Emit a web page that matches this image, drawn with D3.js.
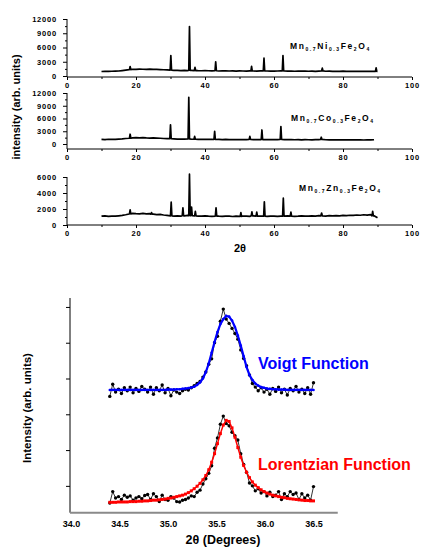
<!DOCTYPE html>
<html>
<head>
<meta charset="utf-8">
<script src="https://cdn.jsdelivr.net/npm/d3@7"></script>
<style>
  body { margin: 0; background: #fff; }
  svg { display: block; font-family: Arial, "Liberation Sans", sans-serif; }
</style>
</head>
<body>
<div id="chart"></div>
<script>
// ---- XRD patterns (top), baseline every 1 degree starting at 10 deg ----
const xrdStart = 10;
const niBase = [950, 980, 960, 1000, 1020, 1050, 1150, 1250, 1350, 1420, 1400, 1450, 1420, 1400, 1440, 1400, 1380, 1350, 1320, 1300,
  1250, 1200, 1180, 1150, 1180, 1150, 1200, 1150, 1120, 1100, 1120, 1100, 1080, 1100, 1050, 1080, 1060, 1050, 1080, 1040,
  1060, 1050, 1030, 1070, 1050, 1040, 1060, 1080, 1050, 1040, 1030, 1050, 1070, 1060, 1020, 1040, 1000, 1030, 1010, 1040,
  1000, 1020, 990, 1030, 1060, 1000, 1010, 980, 1000, 990, 1010, 980, 1000, 970, 990, 980, 960, 990, 970, 1000, 980];
const niPeaks = [[18.3, 2000], [30.1, 4300], [35.5, 10400], [37.1, 1800], [43.1, 3000], [53.5, 2050],
  [57.1, 3750], [62.6, 4300], [74.0, 1650], [89.6, 1700]];

const coBase = [1100, 1050, 1120, 1080, 1100, 1150, 1200, 1300, 1350, 1450, 1500, 1450, 1480, 1420, 1400, 1420, 1380, 1350, 1300, 1280,
  1250, 1200, 1150, 1180, 1150, 1200, 1150, 1120, 1100, 1120, 1080, 1100, 1080, 1060, 1080, 1050, 1070, 1040, 1060, 1050,
  1030, 1060, 1040, 1080, 1050, 1030, 1060, 1050, 1040, 1030, 1050, 1040, 1060, 1030, 1010, 1040, 1000, 1020, 990, 1010,
  1000, 980, 1010, 1050, 1080, 1000, 990, 970, 1000, 980, 970, 990, 960, 980, 950, 970, 940, 960, 950, 1000];
const coPeaks = [[18.3, 2300], [30.0, 4500], [35.3, 11000], [37.0, 1800], [42.8, 3000], [53.0, 1800],
  [56.5, 3300], [62.0, 4100], [73.7, 1600]];

const znBase = [1100, 1150, 1080, 1120, 1100, 1150, 1200, 1280, 1380, 1450, 1420, 1400, 1450, 1380, 1420, 1350, 1300, 1320, 1250, 1200,
  1150, 1120, 1150, 1100, 1150, 1200, 1180, 1150, 1120, 1100, 1150, 1100, 1080, 1120, 1100, 1080, 1120, 1100, 1060, 1100,
  1080, 1120, 1100, 1080, 1150, 1100, 1120, 1100, 1080, 1120, 1100, 1080, 1120, 1100, 1140, 1120, 1080, 1100, 1150, 1120,
  1100, 1140, 1120, 1180, 1150, 1120, 1160, 1140, 1180, 1150, 1200, 1180, 1220, 1200, 1250, 1220, 1280, 1240, 1300, 1150, 900];
const znPeaks = [[18.3, 1900], [24.5, 1550], [30.2, 2850], [33.6, 2150], [35.5, 6350], [36.1, 2250], [37.2, 1700],
  [43.2, 2150], [50.4, 1550], [53.6, 1650], [55.0, 1600], [57.2, 2900], [62.7, 3350], [64.9, 1600], [73.8, 1500], [88.6, 1700]];

const xrdTicks = [0, 20, 40, 60, 80, 100];
const niCoTicks = [0, 3000, 6000, 9000, 12000];
const znTicks = [0, 2000, 4000, 6000];

// ---- peak fit (bottom), 2theta in degrees ----
const fitTheta = [34.40, 34.43, 34.46, 34.49, 34.52, 34.55, 34.58, 34.61, 34.64, 34.67, 34.70, 34.73, 34.76, 34.79, 34.82,
  34.85, 34.88, 34.91, 34.94, 34.97, 35.00, 35.03, 35.06, 35.09, 35.12, 35.15, 35.18, 35.21, 35.24, 35.27, 35.30, 35.33,
  35.36, 35.39, 35.42, 35.45, 35.48, 35.51, 35.54, 35.57, 35.60, 35.63, 35.66, 35.69, 35.72, 35.75, 35.78, 35.81, 35.84,
  35.87, 35.90, 35.93, 35.96, 35.99, 36.02, 36.05, 36.08, 36.11, 36.14, 36.17, 36.20, 36.23, 36.26, 36.29, 36.32, 36.35,
  36.38, 36.41, 36.44, 36.47, 36.50];
const voigtData = [3.50, 3.84, 3.62, 3.70, 3.58, 3.74, 3.66, 3.76, 3.60, 3.72, 3.64, 3.78, 3.70, 3.62, 3.76,
  3.56, 3.74, 3.66, 3.82, 3.60, 3.72, 3.52, 3.68, 3.62, 3.58, 3.66, 3.70, 3.68, 3.74, 3.80, 3.86, 3.92,
  4.04, 4.18, 4.40, 4.55, 5.00, 5.18, 5.60, 5.94, 5.66, 5.54, 5.40, 5.26, 5.10, 4.80, 4.56, 4.36, 4.10,
  3.86, 3.76, 3.66, 3.74, 3.62, 3.70, 3.56, 3.72, 3.64, 3.76, 3.60, 3.70, 3.54, 3.72, 3.66, 3.78, 3.62,
  3.70, 3.58, 3.74, 3.56, 3.88];
const voigtFit = [3.68, 3.68, 3.68, 3.68, 3.68, 3.68, 3.68, 3.68, 3.68, 3.68, 3.68, 3.68, 3.68, 3.68, 3.68,
  3.68, 3.68, 3.68, 3.68, 3.68, 3.69, 3.69, 3.69, 3.70, 3.70, 3.71, 3.72, 3.73, 3.75, 3.77, 3.82, 3.89,
  4.00, 4.18, 4.42, 4.72, 5.02, 5.30, 5.52, 5.66, 5.75, 5.73, 5.62, 5.44, 5.20, 4.92, 4.62, 4.32, 4.10,
  3.96, 3.86, 3.80, 3.76, 3.74, 3.72, 3.71, 3.70, 3.70, 3.69, 3.69, 3.69, 3.68, 3.68, 3.68, 3.68, 3.68,
  3.68, 3.68, 3.68, 3.68, 3.68];
const lorentzData = [0.52, 0.84, 0.66, 0.70, 0.62, 0.74, 0.68, 0.72, 0.60, 0.66, 0.70, 0.64, 0.73, 0.76, 0.62,
  0.78, 0.70, 0.56, 0.74, 0.62, 0.60, 0.70, 0.66, 0.56, 0.55, 0.60, 0.62, 0.66, 0.72, 0.70, 0.82, 0.88,
  1.05, 1.20, 1.35, 1.56, 2.05, 2.34, 2.72, 2.95, 2.74, 2.68, 2.50, 2.40, 2.28, 1.90, 1.60, 1.38, 1.08,
  1.00, 0.86, 0.92, 0.80, 0.84, 0.72, 0.82, 0.70, 0.74, 0.84, 0.62, 0.78, 0.70, 0.84, 0.76, 0.80, 0.62,
  0.78, 0.66, 0.74, 0.60, 0.98];
const lorentzFit = [0.54, 0.54, 0.54, 0.55, 0.55, 0.55, 0.55, 0.56, 0.56, 0.56, 0.57, 0.57, 0.58, 0.58, 0.59,
  0.60, 0.60, 0.61, 0.62, 0.63, 0.65, 0.66, 0.68, 0.70, 0.72, 0.74, 0.77, 0.81, 0.86, 0.92, 0.99, 1.07,
  1.17, 1.29, 1.45, 1.66, 1.90, 2.18, 2.46, 2.70, 2.83, 2.80, 2.62, 2.36, 2.07, 1.80, 1.57, 1.38, 1.23,
  1.11, 1.02, 0.95, 0.89, 0.84, 0.80, 0.77, 0.74, 0.72, 0.70, 0.68, 0.67, 0.65, 0.64, 0.63, 0.62, 0.61,
  0.60, 0.59, 0.59, 0.58, 0.58];
const fitTicksX = [34.0, 34.5, 35.0, 35.5, 36.0, 36.5];
const fitTicksY = [1, 2, 3, 4, 5, 6];

const svg = d3.select("#chart").append("svg")
  .attr("width", 425)
  .attr("height", 548);

// =================== top: three XRD patterns ===================
const xXrd = d3.scaleLinear().domain([0, 100]).range([67, 412]);

const panels = [
  { base: niBase, peaks: niPeaks, ticks: niCoTicks, minor: 1500,
    y: d3.scaleLinear().domain([0, 12000]).range([76, 19]), axisY: 77,
    label: ["Mn", "0.7", "Ni", "0.3", "Fe", "2", "O", "4"], labelX: 290, labelY: 49 },
  { base: coBase, peaks: coPeaks, ticks: niCoTicks, minor: 1500,
    y: d3.scaleLinear().domain([0, 12000]).range([144, 93]), axisY: 149,
    label: ["Mn", "0.7", "Co", "0.3", "Fe", "2", "O", "4"], labelX: 291, labelY: 121 },
  { base: znBase, peaks: znPeaks, ticks: znTicks, minor: 1000,
    y: d3.scaleLinear().domain([0, 6000]).range([225, 177]), axisY: 225,
    label: ["Mn", "0.7", "Zn", "0.3", "Fe", "2", "O", "4"], labelX: 299, labelY: 191 }
];

// baseline points plus a narrow spike for every peak
function xrdPoints(base, peaks) {
  const pts = base.map((v, i) => [xrdStart + i, v])
    .filter((p) => !peaks.some((k) => Math.abs(p[0] - k[0]) < 0.3));
  peaks.forEach(([pos, top]) => {
    const b = base[Math.round(pos) - xrdStart];
    pts.push([pos - 0.2, b], [pos, top], [pos + 0.2, b]);
  });
  return pts.sort((a, b) => a[0] - b[0]);
}

panels.forEach(function (p) {
  const g = svg.append("g");
  const top = p.y(p.ticks[p.ticks.length - 1]);

  // axis lines
  g.append("line")
    .attr("x1", xXrd(0)).attr("x2", xXrd(0))
    .attr("y1", top).attr("y2", p.axisY)
    .attr("stroke", "#000").attr("stroke-width", 1);
  g.append("line")
    .attr("x1", xXrd(0)).attr("x2", xXrd(100))
    .attr("y1", p.axisY).attr("y2", p.axisY)
    .attr("stroke", "#000").attr("stroke-width", 1);

  // y axis
  const yAxis = g.append("g")
    .attr("transform", "translate(" + xXrd(0) + ",0)")
    .call(d3.axisLeft(p.y).tickValues(p.ticks).tickSize(4).tickPadding(6).tickFormat(d3.format("d")));
  yAxis.select(".domain").remove();
  g.append("g")
    .attr("transform", "translate(" + xXrd(0) + ",0)")
    .call(d3.axisLeft(p.y).tickValues(d3.range(p.minor, p.ticks[p.ticks.length - 1], p.minor * 2)).tickSize(2).tickFormat(""))
    .select(".domain").remove();

  // x axis
  const xAxis = g.append("g")
    .attr("transform", "translate(0," + p.axisY + ")")
    .call(d3.axisBottom(xXrd).tickValues(xrdTicks).tickSize(3).tickPadding(3));
  xAxis.select(".domain").remove();
  g.append("g")
    .attr("transform", "translate(0," + p.axisY + ")")
    .call(d3.axisBottom(xXrd).tickValues([10, 30, 50, 70, 90]).tickSize(2).tickFormat(""))
    .select(".domain").remove();

  g.selectAll(".tick text")
    .attr("font-family", "Arial, 'Liberation Sans', sans-serif")
    .attr("font-size", 7.5)
    .attr("font-weight", "bold")
    .attr("letter-spacing", "0.8px")
    .attr("fill", "#000");

  // pattern
  const line = d3.line().x((d) => xXrd(d[0])).y((d) => p.y(d[1]));
  g.append("path")
    .datum(xrdPoints(p.base, p.peaks))
    .attr("d", line)
    .attr("fill", "none")
    .attr("stroke", "#000")
    .attr("stroke-width", 1.7)
    .attr("stroke-linejoin", "round");

  // compound label with subscripts
  const t = g.append("text")
    .attr("x", p.labelX).attr("y", p.labelY)
    .attr("font-size", 8.5)
    .attr("font-weight", "bold")
    .attr("letter-spacing", "1.6px");
  p.label.forEach(function (s, i) {
    if (i % 2 === 0) {
      t.append("tspan").attr("dy", i === 0 ? 0 : -2).attr("font-size", 8.5).text(s);
    } else {
      t.append("tspan").attr("dy", 2).attr("font-size", 5).text(s);
    }
  });
});

svg.append("text")
  .attr("x", 240).attr("y", 252)
  .attr("text-anchor", "middle")
  .attr("font-size", 11).attr("font-weight", "bold")
  .text("2θ");

svg.append("text")
  .attr("transform", "translate(20,107) rotate(-90)")
  .attr("text-anchor", "middle")
  .attr("font-size", 11).attr("font-weight", "bold")
  .text("intensity (arb. units)");

// =================== bottom: peak fits ===================
const xFit = d3.scaleLinear().domain([34.0, 36.5]).range([71, 313.5]);
const yFit = d3.scaleLinear().domain([0.25, 6.25]).range([512.7, 298]);

const fg = svg.append("g");

fg.append("line")
  .attr("x1", 70).attr("x2", 70)
  .attr("y1", yFit(6.25)).attr("y2", yFit(0.25))
  .attr("stroke", "#000").attr("stroke-width", 1);

fg.append("g")
  .attr("transform", "translate(70,0)")
  .call(d3.axisLeft(yFit).tickValues(fitTicksY).tickSize(4).tickFormat(""))
  .select(".domain").remove();

const fitXAxis = fg.append("g")
  .attr("transform", "translate(0," + yFit(0.25) + ")")
  .call(d3.axisBottom(xFit).tickValues(fitTicksX).tickSize(0).tickPadding(8).tickFormat(d3.format(".1f")));
fitXAxis.select(".domain").remove();
fitXAxis.selectAll(".tick text")
  .attr("font-family", "Arial, 'Liberation Sans', sans-serif")
  .attr("font-size", 9)
  .attr("font-weight", "bold")
  .attr("fill", "#000");

fg.append("line")
  .attr("x1", 70).attr("x2", xFit(36.75))
  .attr("y1", yFit(0.25)).attr("y2", yFit(0.25))
  .attr("stroke", "#8a8a8a").attr("stroke-width", 2);

function drawSeries(values, color, width) {
  const pts = fitTheta.map((t, i) => [t, values[i]]);
  fg.append("path")
    .datum(pts)
    .attr("d", d3.line().x((d) => xFit(d[0])).y((d) => yFit(d[1])))
    .attr("fill", "none")
    .attr("stroke", color)
    .attr("stroke-width", width);
  return pts;
}

// measured points
[voigtData, lorentzData].forEach(function (vals) {
  const pts = drawSeries(vals, "#000", 0.8);
  fg.append("g").selectAll("circle")
    .data(pts)
    .enter()
    .append("circle")
    .attr("cx", (d) => xFit(d[0]))
    .attr("cy", (d) => yFit(d[1]))
    .attr("r", 1.7)
    .attr("fill", "#000");
});

// Voigt fit
const vPts = drawSeries(voigtFit, "#0000ff", 2.2);
fg.append("g").selectAll("circle")
  .data(vPts)
  .enter()
  .append("circle")
  .attr("cx", (d) => xFit(d[0]))
  .attr("cy", (d) => yFit(d[1]))
  .attr("r", 1.3)
  .attr("fill", "#0000ff");

// Lorentzian fit
const lPts = drawSeries(lorentzFit, "#ff0000", 1.5);
fg.append("g").selectAll("rect")
  .data(lPts)
  .enter()
  .append("rect")
  .attr("x", (d) => xFit(d[0]) - 1.5)
  .attr("y", (d) => yFit(d[1]) - 1.5)
  .attr("width", 3)
  .attr("height", 3)
  .attr("fill", "#ff0000");

svg.append("text")
  .attr("x", 258).attr("y", 369)
  .attr("font-size", 16).attr("font-weight", "bold")
  .attr("fill", "#0000ff")
  .text("Voigt Function");

svg.append("text")
  .attr("x", 258).attr("y", 470)
  .attr("font-size", 16).attr("font-weight", "bold")
  .attr("fill", "#ff0000")
  .text("Lorentzian Function");

svg.append("text")
  .attr("x", 223).attr("y", 544)
  .attr("text-anchor", "middle")
  .attr("font-size", 12.5).attr("font-weight", "bold")
  .text("2θ (Degrees)");

svg.append("text")
  .attr("transform", "translate(31,408) rotate(-90)")
  .attr("text-anchor", "middle")
  .attr("font-size", 11.5).attr("font-weight", "bold")
  .text("Intensity (arb. units)");
</script>
</body>
</html>
